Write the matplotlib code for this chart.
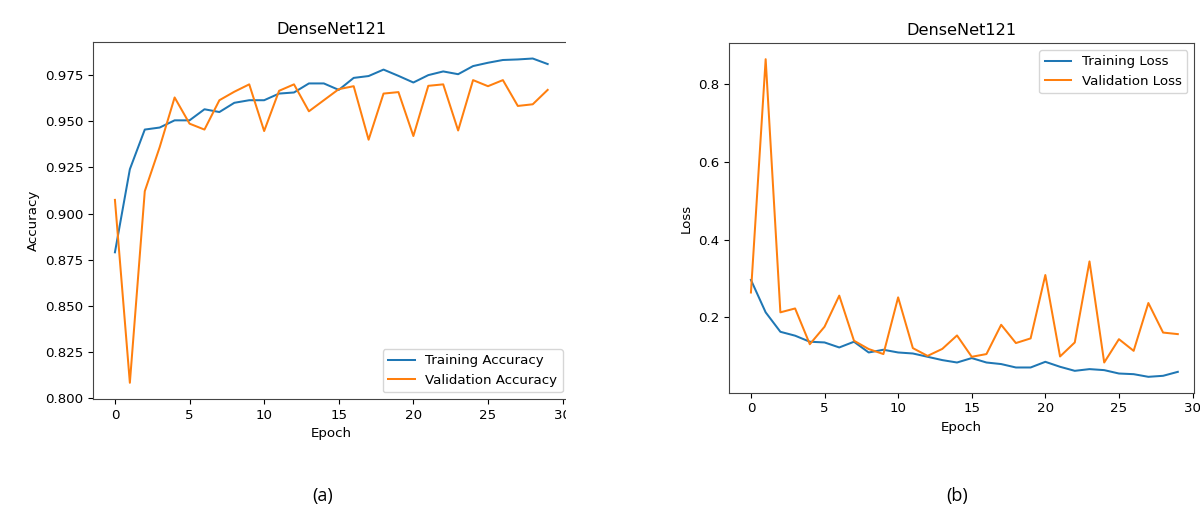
import matplotlib
matplotlib.use("Agg")
import matplotlib.pyplot as plt
from matplotlib.patches import Rectangle
from matplotlib.ticker import MultipleLocator

epochs = list(range(30))

train_acc = [0.879, 0.924, 0.9455, 0.9466, 0.9505, 0.9505, 0.9565, 0.955, 0.960, 0.9614,
             0.9614, 0.965, 0.9656, 0.9705, 0.9705, 0.967, 0.9735, 0.9745, 0.978, 0.9746,
             0.971, 0.975, 0.977, 0.9755, 0.9799, 0.9817, 0.9832, 0.9835, 0.984, 0.981]
val_acc = [0.9074, 0.8083, 0.9121, 0.936, 0.9629, 0.9487, 0.9455, 0.9614, 0.966, 0.970,
           0.9447, 0.9665, 0.970, 0.9554, 0.9614, 0.9674, 0.969, 0.940, 0.965, 0.9658,
           0.942, 0.9692, 0.970, 0.945, 0.9723, 0.969, 0.9723, 0.9583, 0.9592, 0.967]

train_loss = [0.2964, 0.213, 0.163, 0.153, 0.1374, 0.1356, 0.1227, 0.1374, 0.1098, 0.1168,
              0.1098, 0.1072, 0.0987, 0.0902, 0.084, 0.0954, 0.084, 0.080, 0.0712, 0.0712,
              0.0858, 0.073, 0.0626, 0.067, 0.0644, 0.0557, 0.054, 0.0472, 0.0498, 0.060]
val_loss = [0.264, 0.864, 0.213, 0.223, 0.131, 0.176, 0.256, 0.140, 0.1186, 0.1057,
            0.2515, 0.121, 0.101, 0.119, 0.1536, 0.0987, 0.1057, 0.181, 0.134, 0.146,
            0.309, 0.0995, 0.1356, 0.344, 0.084, 0.144, 0.114, 0.237, 0.161, 0.157]

W, H = 1200, 508
fig = plt.figure(figsize=(W / 100, H / 100), dpi=100)
plt.rcParams['font.size'] = 9.6


def px_axes(left, top, right, bottom):
    return fig.add_axes([left / W, 1 - bottom / H, (right - left) / W, (bottom - top) / H])


ax1 = px_axes(93.3, 42.3, 569.3, 399)
ax1.plot(epochs, train_acc, color='#1f77b4', lw=1.45, label='Training Accuracy')
ax1.plot(epochs, val_acc, color='#ff7f0e', lw=1.45, label='Validation Accuracy')
ax1.set_title('DenseNet121', fontsize=11.6)
ax1.set_xlabel('Epoch')
ax1.set_ylabel('Accuracy')
ax1.legend(loc='lower right')

ax2 = px_axes(729.3, 43.3, 1194, 392.7)
ax2.plot(epochs, train_loss, color='#1f77b4', lw=1.45, label='Training Loss')
ax2.plot(epochs, val_loss, color='#ff7f0e', lw=1.45, label='Validation Loss')
ax2.set_xlim(-1.47, 30.1)
ax2.yaxis.set_major_locator(MultipleLocator(0.2))
ax2.set_title('DenseNet121', fontsize=11.6)
ax2.set_xlabel('Epoch')
ax2.set_ylabel('Loss')
ax2.legend(loc='upper right')

for ax in (ax1, ax2):
    for s in ax.spines.values():
        s.set_color('#444444')

# the left panel is cut off at its right edge in the source image
fig.patches.append(Rectangle((566 / W, 0), (655 - 566) / W, 1, transform=fig.transFigure,
                             facecolor='white', edgecolor='none', zorder=10))

fig.text(323 / W, 1 - 496 / H, '(a)', ha='center', va='center', fontsize=13, family='Open Sans')
fig.text(957 / W, 1 - 496 / H, '(b)', ha='center', va='center', fontsize=13, family='Open Sans')

fig.savefig('out.png', dpi=100)
